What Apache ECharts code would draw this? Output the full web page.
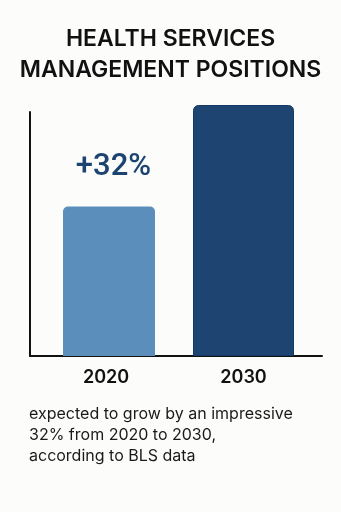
<!DOCTYPE html>
<html>
<head>
<meta charset="utf-8">
<script src="https://cdn.jsdelivr.net/npm/echarts@6/dist/echarts.min.js"></script>
<style>
html,body{margin:0;padding:0;background:#fcfcfb;}
#chart{width:341px;height:512px;}
</style>
</head>
<body>
<div id="chart"></div>
<script>
const titleLines = ['HEALTH SERVICES', 'MANAGEMENT POSITIONS'];
const categories = ['2020', '2030'];
const values2020 = [100, '-'];
const values2030 = ['-', 168];
const growthLabel = '+32%';
const captionLines = ['expected to grow by an impressive', '32% from 2020 to 2030,', 'according to BLS data'];

const chart = echarts.init(document.getElementById('chart'), null, {renderer: 'canvas'});
chart.setOption({
  backgroundColor: '#fcfcfb',
  animation: false,
  title: [
    {
      text: titleLines.join('\n'),
      left: 170.5, top: 24, padding: 0,
      textAlign: 'center',
      textStyle: {fontFamily: 'Inter', fontWeight: 600, fontSize: 23, lineHeight: 31, color: '#111111'}
    },
    {
      text: captionLines.join('\n'),
      left: 29, top: 404, padding: 0,
      textStyle: {fontFamily: 'Inter', fontWeight: 400, fontSize: 16, lineHeight: 21, color: '#1a1a1a'}
    }
  ],
  grid: [
    {left: 48.5, width: 260, top: 105, bottom: 156},
    {left: 30, width: 292, top: 112, bottom: 156}
  ],
  xAxis: [
    {
      type: 'category', gridIndex: 0, data: [
        {value: categories[0], textStyle: {padding: [0, 15, 0, 0]}},
        categories[1]
      ],
      axisLine: {show: false}, axisTick: {show: false},
      axisLabel: {margin: 13, fontFamily: 'Inter', fontWeight: 600, fontSize: 18, color: '#111111'}
    },
    {
      type: 'category', gridIndex: 1, data: categories,
      axisLine: {show: true, lineStyle: {color: '#111111', width: 2}},
      axisTick: {show: false}, axisLabel: {show: false}
    }
  ],
  yAxis: [
    {type: 'value', gridIndex: 0, min: 0, max: 168, show: false, splitLine: {show: false}},
    {
      type: 'value', gridIndex: 1, min: 0, max: 1,
      axisLine: {show: true, lineStyle: {color: '#111111', width: 2}},
      axisTick: {show: false}, axisLabel: {show: false}, splitLine: {show: false}
    }
  ],
  series: [
    {
      type: 'bar', xAxisIndex: 0, yAxisIndex: 0, data: values2020,
      barWidth: 92, barGap: '-100%',
      itemStyle: {color: '#5b8ebb', borderRadius: [5, 5, 0, 0]},
      label: {
        show: true, position: 'top', distance: 24, offset: [4.5, 0],
        formatter: growthLabel,
        fontFamily: 'Roboto', fontWeight: 500, fontSize: 31, color: '#1d4471'
      }
    },
    {
      type: 'bar', xAxisIndex: 0, yAxisIndex: 0, data: values2030,
      barWidth: 101, barGap: '-100%',
      itemStyle: {color: '#1e4472', borderColor: '#163a66', borderWidth: 1, borderRadius: [5, 5, 0, 0]}
    }
  ]
});
</script>
</body>
</html>
